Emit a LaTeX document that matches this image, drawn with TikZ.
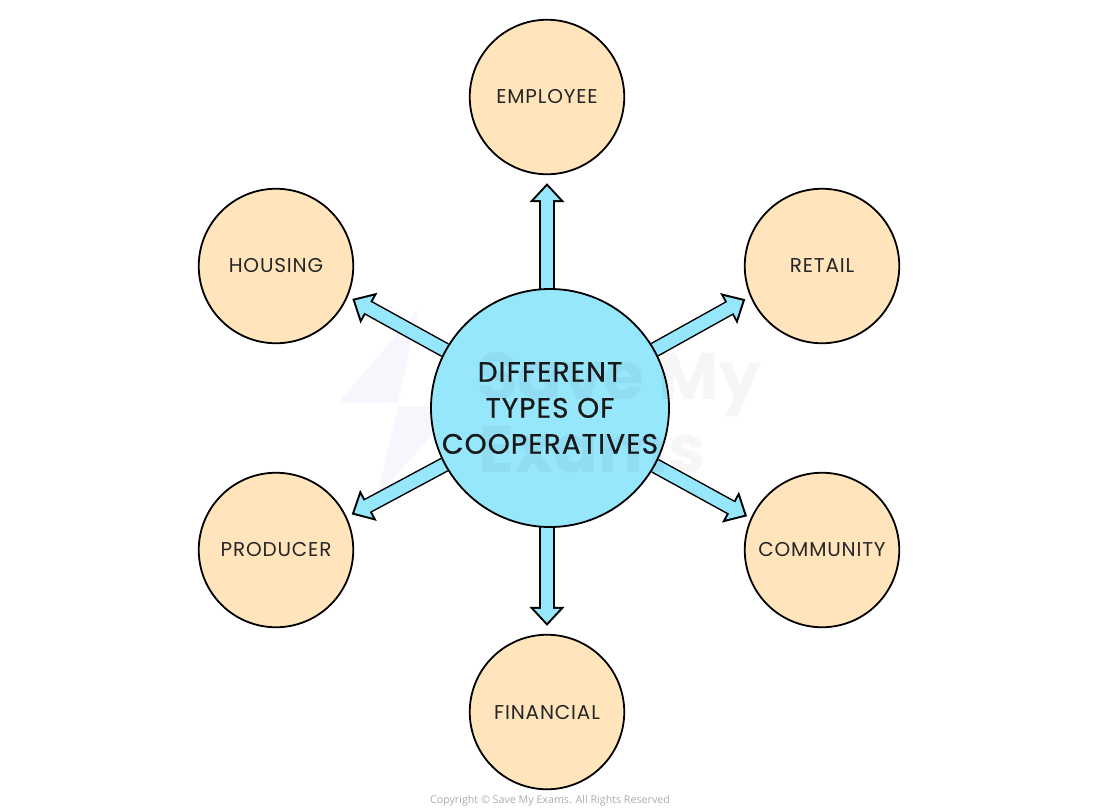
\documentclass[tikz,border=0pt]{standalone}
\usepackage{fontspec}
\setmainfont{Poppins}
\newfontfamily\copyfont{Open Sans}
\newfontfamily\typefont[LetterSpace=4.2]{Poppins}
\newfontfamily\mainfont[LetterSpace=4,FakeBold=.6]{Poppins}
\usetikzlibrary{arrows.meta,backgrounds}
\definecolor{peach}{HTML}{FFE4BC}
\definecolor{skyblue}{HTML}{96E6FC}
\definecolor{copygrey}{HTML}{ABABAB}
\definecolor{markblue}{HTML}{F6F7FD}
\tikzset{
  type/.style={circle,draw=black,line width=1.8pt,fill=peach,minimum size=154.5pt,inner sep=0pt,font=\typefont\fontsize{20}{24}\selectfont,text=black!85},
  main/.style={circle,draw=black,line width=1.8pt,fill=skyblue,minimum size=238pt,inner sep=0pt,align=center,font=\mainfont\fontsize{28}{36}\selectfont,text=black!90},
  fat/.style={line width=15.5pt,draw=black,-{Triangle[length=19pt,width=34pt]},
    postaction={draw=skyblue,line width=12.5pt,shorten >=#1+3pt,-{Triangle[length=14pt,width=25pt]}},shorten >=#1},
  mark text/.style={opacity=.035,font=\fontsize{66}{66}\selectfont\bfseries}
}
\begin{document}
\begin{tikzpicture}[x=1pt,y=-1pt]
\useasboundingbox (0,0) rectangle (1100,809);
\node (employee) [type] at (547,97) {EMPLOYEE};
\node (retail) [type] at (822,266) {RETAIL};
\node (community) [type] at (822,550) {COMMUNITY};
\node (financial) [type] at (547,712) {FINANCIAL};
\node (producer) [type] at (276,550) {PRODUCER};
\node (housing) [type] at (276,266) {HOUSING};
\node (cooperatives) [main] at (550,408) {DIFFERENT\\TYPES OF\\COOPERATIVES};
\begin{pgfonlayer}{background}
\fill [markblue] (418,310) -- (338,403) -- (398,403) -- cycle;
\fill [markblue] (398,406) -- (377,497) -- (458,406) -- cycle;
\draw [fat=8pt] (employee |- cooperatives) -- (employee);
\draw [fat=5.5pt] (cooperatives) -- (retail.203);
\draw [fat=4pt] (cooperatives) -- (community.156);
\draw [fat=8pt] (financial |- cooperatives) -- (financial);
\draw [fat=5.5pt] (cooperatives) -- (producer.25);
\draw [fat=5pt] (cooperatives) -- (housing.337);
\end{pgfonlayer}
% faint mark over the middle
\node (save) [mark text] at (619,385) {Save My};
\node (exams) [mark text] at (592,450) {Exams};
\node (copyright) [text=copygrey,font=\copyfont\fontsize{10.7}{12}\selectfont] at (550,801) {Copyright © Save My Exams. All Rights Reserved};
\end{tikzpicture}
\end{document}
